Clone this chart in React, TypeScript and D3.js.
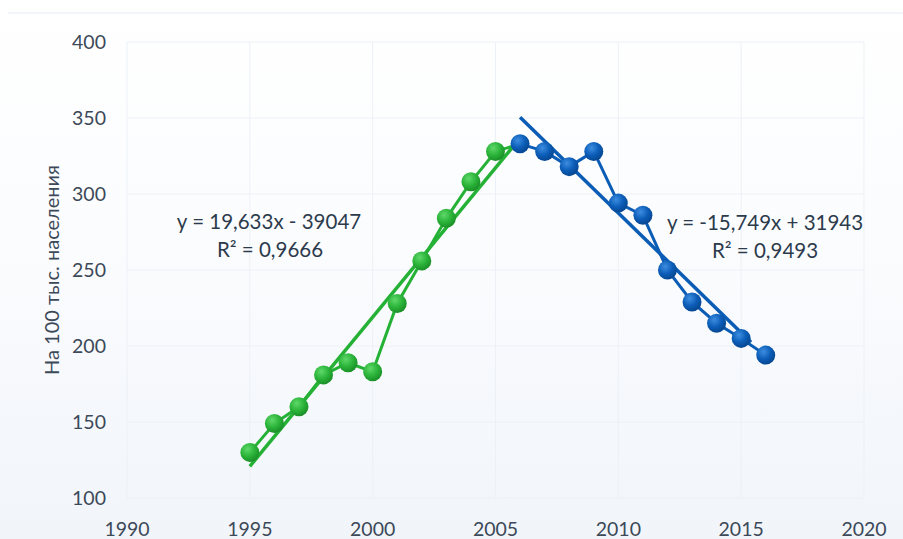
import React from "react";
import * as d3 from "d3";

// values
const yearsUp = [1995, 1996, 1997, 1998, 1999, 2000, 2001, 2002, 2003, 2004, 2005, 2006];
const valuesUp = [130, 149, 160, 181, 189, 183, 228, 256, 284, 308, 328, 333];
const yearsDown = [2006, 2007, 2008, 2009, 2010, 2011, 2012, 2013, 2014, 2015, 2016];
const valuesDown = [333, 328, 318, 328, 294, 286, 250, 229, 215, 205, 194];

const xTicks = [1990, 1995, 2000, 2005, 2010, 2015, 2020];
const yTicks = [100, 150, 200, 250, 300, 350, 400];

// trend lines: slope, intercept, x span
const trendUp = { a: 19.633, b: -39047, from: 1995, to: 2006 };
const trendDown = { a: -15.749, b: 31943, from: 2006, to: 2015.4 };
const eqUp = ["y = 19,633x - 39047", "R² = 0,9666"];
const eqDown = ["y = -15,749x + 31943", "R² = 0,9493"];

const W = 903;
const H = 539;
const green = "#25b135";
const blue = "#0b5cb5";
const font = "Lato, 'Open Sans', sans-serif";

export default function App() {
  const x = d3.scaleLinear().domain([1990, 2020]).range([127, 864]);
  const y = d3.scaleLinear().domain([100, 400]).range([498, 42]);

  const line = d3
    .line<[number, number]>()
    .x((d) => x(d[0]))
    .y((d) => y(d[1]));

  const upPts = yearsUp.map((t, i) => [t, valuesUp[i]] as [number, number]);
  const downPts = yearsDown.map((t, i) => [t, valuesDown[i]] as [number, number]);
  const trendPts = (t: typeof trendUp) =>
    [t.from, t.to].map((v) => [v, t.a * v + t.b] as [number, number]);

  return (
    <svg
      width={W}
      height={H}
      style={{ position: "absolute", left: 0, top: 0 }}
      fontFamily={font}
    >
      <defs>
        <linearGradient id="bg" x1="0" y1="0" x2="0" y2="1">
          <stop offset="0" stopColor="#ffffff" />
          <stop offset="0.45" stopColor="#fbfcfe" />
          <stop offset="1" stopColor="#f1f5fa" />
        </linearGradient>
        <radialGradient id="gBall" cx="0.38" cy="0.32" r="0.7">
          <stop offset="0" stopColor="#5fd86a" />
          <stop offset="0.55" stopColor="#2bb43a" />
          <stop offset="1" stopColor="#1a8e27" />
        </radialGradient>
        <radialGradient id="bBall" cx="0.38" cy="0.32" r="0.7">
          <stop offset="0" stopColor="#3d8ee0" />
          <stop offset="0.55" stopColor="#0c5db8" />
          <stop offset="1" stopColor="#06468f" />
        </radialGradient>
      </defs>
      <rect x={0} y={0} width={W} height={H} fill="url(#bg)" />
      <line x1={8} x2={W} y1={13} y2={13} stroke="#eef3f8" strokeWidth={1.5} />

      {/* grid */}
      <g stroke="#ecf1f7" strokeWidth={1}>
        {yTicks.map((t) => (
          <line key={"h" + t} x1={x(1990)} x2={x(2020)} y1={y(t)} y2={y(t)} />
        ))}
        {xTicks.map((t) => (
          <line key={"v" + t} x1={x(t)} x2={x(t)} y1={y(400)} y2={y(100)} />
        ))}
      </g>

      {/* axis labels */}
      <g fill="#3c4958" fontSize={19.5}>
        {yTicks.map((t) => (
          <text key={t} x={106} y={y(t)} dy="0.35em" textAnchor="end">
            {t}
          </text>
        ))}
        {xTicks.map((t) => (
          <text key={t} x={x(t)} y={536} textAnchor="middle">
            {t}
          </text>
        ))}
      </g>
      <text
        transform="translate(59,270) rotate(-90)"
        textAnchor="middle"
        fontSize={20}
        fill="#3c4958"
      >
        На 100 тыс. населения
      </text>

      {/* series lines */}
      <path d={line(upPts) || ""} fill="none" stroke={green} strokeWidth={3} />
      <path d={line(downPts) || ""} fill="none" stroke={blue} strokeWidth={3} />

      {/* trend lines */}
      <path d={line(trendPts(trendUp)) || ""} fill="none" stroke={green} strokeWidth={3.5} />
      <path d={line(trendPts(trendDown)) || ""} fill="none" stroke={blue} strokeWidth={3.5} />

      {/* markers */}
      {upPts.slice(0, -1).map((d) => (
        <circle key={"g" + d[0]} cx={x(d[0])} cy={y(d[1])} r={9.5} fill="url(#gBall)" />
      ))}
      {downPts.map((d) => (
        <circle key={"b" + d[0]} cx={x(d[0])} cy={y(d[1])} r={9.5} fill="url(#bBall)" />
      ))}

      {/* equations */}
      <g fill="#2c3b4c" fontSize={20.5} textAnchor="middle">
        <text x={269} y={229}>{eqUp[0]}</text>
        <text x={270} y={257}>{eqUp[1]}</text>
        <text x={765} y={230}>{eqDown[0]}</text>
        <text x={765} y={258}>{eqDown[1]}</text>
      </g>
    </svg>
  );
}
